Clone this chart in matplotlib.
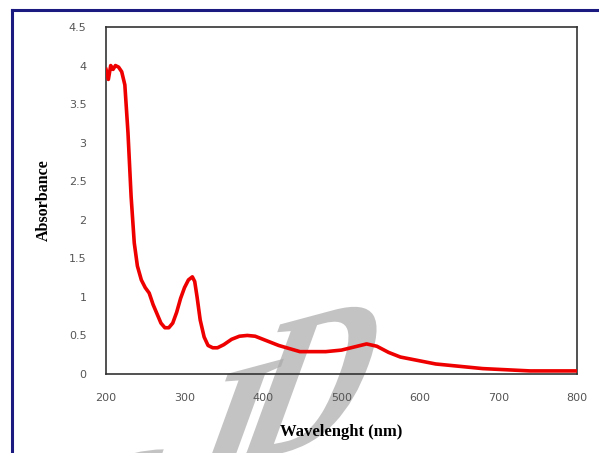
import numpy as np
import matplotlib.pyplot as plt
from matplotlib.lines import Line2D
from matplotlib.textpath import TextPath
from matplotlib.patches import PathPatch
from matplotlib.font_manager import FontProperties
import matplotlib.transforms as mtransforms

# absorbance spectrum
wavelength = [200, 203, 206, 209, 212, 216, 220, 224, 228, 232, 236, 240, 245, 250,
              255, 260, 265, 270, 275, 280, 285, 290, 295, 300, 305, 310, 313, 316,
              320, 325, 330, 336, 342, 350, 360, 370, 380, 390, 400, 420, 447, 460,
              480, 500, 520, 532, 545, 560, 575, 600, 620, 650, 680, 700, 720, 740,
              760, 780, 800]
absorbance = [3.95, 3.82, 4.0, 3.95, 4.0, 3.98, 3.92, 3.75, 3.13, 2.3, 1.7, 1.4, 1.22, 1.12,
              1.05, 0.9, 0.78, 0.66, 0.6, 0.6, 0.66, 0.8, 0.98, 1.12, 1.22, 1.26, 1.2, 1.0,
              0.7, 0.48, 0.37, 0.34, 0.34, 0.38, 0.45, 0.49, 0.5, 0.49, 0.45, 0.37, 0.29, 0.29,
              0.29, 0.31, 0.36, 0.39, 0.36, 0.28, 0.22, 0.17, 0.13, 0.1, 0.07, 0.06, 0.05, 0.04,
              0.04, 0.04, 0.04]

xticks = [200, 300, 400, 500, 600, 700, 800]
yticks = [0, 0.5, 1, 1.5, 2, 2.5, 3, 3.5, 4, 4.5]
ytick_labels = ["0", "0.5", "1", "1.5", "2", "2.5", "3", "3.5", "4", "4.5"]

fig = plt.figure(figsize=(5.99, 4.53), dpi=100)

# faint slanted "SID" watermark behind the axes, letters placed one by one (pixels)
wm_font = FontProperties(family="Liberation Serif", weight="bold")
for letter, ox, oy in [("S", 31, -158), ("I", 170, -65), ("D", 225, -15)]:
    tp = TextPath((0, 0), letter, size=190, prop=wm_font)
    tr = (mtransforms.Affine2D().scale(0.95, 1).skew_deg(35, 0)
          .rotate_deg(15).translate(ox, oy))
    fig.add_artist(PathPatch(tp, transform=tr, facecolor="#aaaaaa", edgecolor="none",
                             alpha=0.7, zorder=-1))

ax = fig.add_axes([106/599, 1-374/453, 471/599, 347/453])
ax.set_facecolor("none")

ax.plot(wavelength, absorbance, color="#ee0000", lw=2.6, zorder=3)

ax.set_xlim(200, 800)
ax.set_ylim(0, 4.5)
ax.set_xticks(xticks)
ax.set_yticks(yticks)
ax.set_yticklabels(ytick_labels)
ax.tick_params(length=0, labelsize=8, colors="#555555")
ax.tick_params(axis="y", pad=14)
ax.tick_params(axis="x", pad=14)
for s in ax.spines.values():
    s.set_color("#333333")
    s.set_linewidth(1.2)

ax.set_xlabel("Wavelenght (nm)", fontfamily="Liberation Serif", fontweight="bold",
              fontsize=12, labelpad=15)
ax.set_ylabel("Absorbance", fontfamily="Liberation Serif", fontweight="bold",
              fontsize=11.5, labelpad=12)

# outer frame of the figure
fig.add_artist(Line2D([12/599, 12/599], [0, 1-10/453], color="#1a1a80", lw=2.2))
fig.add_artist(Line2D([12/599, 1], [1-10/453, 1-10/453], color="#1a1a80", lw=2.2))

plt.savefig("out.png", dpi=100)
